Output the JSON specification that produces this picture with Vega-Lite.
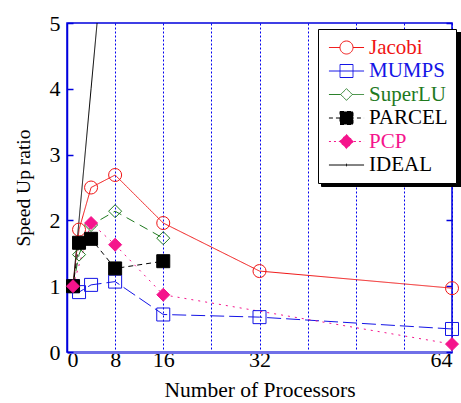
{
  "$schema": "https://vega.github.io/schema/vega-lite/v6.json",
  "width": 385,
  "height": 329,
  "autosize": {"type": "none"},
  "padding": {"left": 67, "top": 23, "right": 9, "bottom": 51},
  "background": "white",
  "config": {
    "view": {"stroke": "#0000dd", "strokeWidth": 1.5},
    "font": "Times New Roman, Liberation Serif, serif",
    "axis": {"labelFont": "Times New Roman, Liberation Serif, serif", "titleFont": "Times New Roman, Liberation Serif, serif", "titleFontWeight": "normal", "labelColor": "black", "titleColor": "black"},
    "legend": {"labelFont": "Times New Roman, Liberation Serif, serif"}
  },
  "datasets": {
    "speed": [
      {"series": "Jacobi", "procs": 1, "speedup": 1.0},
      {"series": "Jacobi", "procs": 2, "speedup": 1.86},
      {"series": "Jacobi", "procs": 4, "speedup": 2.5},
      {"series": "Jacobi", "procs": 8, "speedup": 2.69},
      {"series": "Jacobi", "procs": 16, "speedup": 1.96},
      {"series": "Jacobi", "procs": 32, "speedup": 1.23},
      {"series": "Jacobi", "procs": 64, "speedup": 0.97},
      {"series": "MUMPS", "procs": 1, "speedup": 1.0},
      {"series": "MUMPS", "procs": 2, "speedup": 0.91},
      {"series": "MUMPS", "procs": 4, "speedup": 1.02},
      {"series": "MUMPS", "procs": 8, "speedup": 1.07},
      {"series": "MUMPS", "procs": 16, "speedup": 0.57},
      {"series": "MUMPS", "procs": 32, "speedup": 0.53},
      {"series": "MUMPS", "procs": 64, "speedup": 0.35},
      {"series": "SuperLU", "procs": 1, "speedup": 1.0},
      {"series": "SuperLU", "procs": 2, "speedup": 1.48},
      {"series": "SuperLU", "procs": 4, "speedup": 1.93},
      {"series": "SuperLU", "procs": 8, "speedup": 2.14},
      {"series": "SuperLU", "procs": 16, "speedup": 1.73},
      {"series": "PARCEL", "procs": 1, "speedup": 1.0},
      {"series": "PARCEL", "procs": 2, "speedup": 1.66},
      {"series": "PARCEL", "procs": 4, "speedup": 1.72},
      {"series": "PARCEL", "procs": 8, "speedup": 1.27},
      {"series": "PARCEL", "procs": 16, "speedup": 1.38},
      {"series": "PCP", "procs": 1, "speedup": 1.0},
      {"series": "PCP", "procs": 4, "speedup": 1.96},
      {"series": "PCP", "procs": 8, "speedup": 1.63},
      {"series": "PCP", "procs": 16, "speedup": 0.87},
      {"series": "PCP", "procs": 64, "speedup": 0.12},
      {"series": "IDEAL", "procs": 1, "speedup": 1},
      {"series": "IDEAL", "procs": 2, "speedup": 2},
      {"series": "IDEAL", "procs": 4, "speedup": 4},
      {"series": "IDEAL", "procs": 8, "speedup": 8},
      {"series": "IDEAL", "procs": 16, "speedup": 16},
      {"series": "IDEAL", "procs": 32, "speedup": 32},
      {"series": "IDEAL", "procs": 64, "speedup": 64}
    ]
  },
  "data": {"name": "speed"},
  "resolve": {"axis": {"y": "independent"}},
  "layer": [
    {
      "transform": [{"filter": "datum.series === 'IDEAL' && datum.speedup <= 4"}],
      "mark": {"type": "rule", "opacity": 0},
      "encoding": {
        "y": {
          "field": "speedup", "type": "quantitative",
          "scale": {"domain": [0, 5], "nice": false},
          "axis": {
            "orient": "right", "values": [0, 1, 2, 3, 4, 5],
            "labels": false, "title": null, "domain": false, "grid": false,
            "tickSize": -6, "tickColor": "#0000dd", "tickWidth": 1.5
          }
        },
        "strokeDash": {
          "field": "series", "type": "nominal",
          "scale": {
            "domain": ["IDEAL", "PCP", "PARCEL", "SuperLU", "MUMPS", "Jacobi"],
            "range": [[1, 0], [2, 5], [5, 4], [9, 6], [14, 5], [1, 0]]
          },
          "legend": {
            "orient": "none", "legendX": 254, "legendY": 9,
            "title": null,
            "labelFont": "Times New Roman, Liberation Serif, serif", "labelFontSize": 21,
            "labelExpr": "''",
            "labelColor": "black",
            "padding": 8, "rowPadding": 1.5,
            "symbolOffset": 10, "labelOffset": 98,
            "strokeColor": "black", "fillColor": "black",
            "symbolSize": 169, "symbolStrokeColor": "black", "symbolFillColor": "black"
          }
        }
      }
    },
    {
      "mark": {"type": "line", "strokeWidth": 1, "clip": true},
      "encoding": {
        "x": {
          "field": "procs", "type": "quantitative",
          "scale": {"domain": [0, 64], "nice": false},
          "axis": {
            "values": [0, 8, 16, 24, 32, 40, 48, 56, 64],
            "labelExpr": "indexof([0,8,16,32,64], datum.value) >= 0 ? datum.label : ''",
            "title": "Number of Processors",
            "titleFontSize": 21.5, "titlePadding": 9,
            "labelFontSize": 22, "labelPadding": -3,
            "ticks": false,
            "grid": true, "gridColor": "#0000ee", "gridDash": [2, 2], "gridWidth": 1, "gridOpacity": 1,
            "domainColor": "#7070e8", "domainWidth": 3
          }
        },
        "y": {
          "field": "speedup", "type": "quantitative",
          "axis": {
            "orient": "left",
            "values": [0, 1, 2, 3, 4, 5],
            "title": "Speed Up ratio", "titleFontSize": 19.5, "titlePadding": 16,
            "labelFontSize": 22, "labelPadding": 13,
            "grid": false,
            "tickSize": -6, "tickColor": "#0000dd", "tickWidth": 1.5,
            "domainColor": "#0000dd", "domainWidth": 1.5
          }
        },
        "color": {
          "field": "series", "type": "nominal",
          "scale": {
            "domain": ["Jacobi", "MUMPS", "SuperLU", "PARCEL", "PCP", "IDEAL"],
            "range": ["#f01414", "#1414e6", "#1f7a1f", "#000000", "#f5148c", "#000000"]
          },
          "legend": {
            "orient": "none", "legendX": 251, "legendY": 6,
            "title": null,
            "labelFont": "Times New Roman, Liberation Serif, serif", "labelFontSize": 21,
            "labelExpr": "datum.label + ' '",
            "padding": 8, "rowPadding": 1.5,
            "symbolOffset": 10, "labelOffset": 12,
            "strokeColor": "black", "fillColor": "white",
            "symbolSize": 169,
            "encode": {
              "symbols": {
                "update": {
                  "shape": {"signal": "datum.value === 'Jacobi' ? 'M-2.7,0L-1,0M1,0L2.7,0M1,0A1,1,0,1,1,-1,0A1,1,0,1,1,1,0' : datum.value === 'MUMPS' ? 'M-2.7,0L2.7,0M-1,-1L1,-1L1,1L-1,1Z' : datum.value === 'SuperLU' ? 'M-2.7,0L-0.9,0M0.9,0L2.7,0M-0.9,0L0,-0.9L0.9,0L0,0.9Z' : datum.value === 'PARCEL' ? 'M-2.7,0L2.7,0M-1,-1L1,-1L1,1L-1,1Z' : datum.value === 'PCP' ? 'M-2.7,0L2.7,0M-1.1,0L0,-1.1L1.1,0L0,1.1Z' : 'M-2.7,0L2.7,0M0,-0.2L0,0.2'"},
                  "stroke": {"scale": "color", "field": "value"},
                  "fill": {"signal": "datum.value === 'PARCEL' ? '#000000' : datum.value === 'PCP' ? '#f5148c' : 'transparent'"},
                  "strokeDash": {"signal": "datum.value === 'PARCEL' ? [4, 3] : datum.value === 'PCP' ? [2, 3] : [1, 0]"},
                  "strokeWidth": {"value": 1},
                  "size": {"value": 169},
                  "opacity": {"value": 1}
                }
              },
              "labels": {
                "update": {"fill": {"scale": "color", "field": "value"}}
              }
            }
          }
        },
        "strokeDash": {"field": "series", "type": "nominal"}
      }
    },
    {
      "transform": [{"filter": "datum.series !== 'IDEAL'"}],
      "mark": {"type": "point", "strokeWidth": 1, "opacity": 1},
      "encoding": {
        "x": {"field": "procs", "type": "quantitative"},
        "y": {"field": "speedup", "type": "quantitative", "axis": null},
        "color": {"field": "series", "type": "nominal"},
        "shape": {
          "field": "series", "type": "nominal",
          "scale": {
            "domain": ["Jacobi", "MUMPS", "SuperLU", "PARCEL", "PCP"],
            "range": ["circle", "square", "diamond", "square", "diamond"]
          },
          "legend": null
        },
        "fill": {
          "field": "series", "type": "nominal",
          "scale": {
            "domain": ["Jacobi", "MUMPS", "SuperLU", "PARCEL", "PCP"],
            "range": ["transparent", "transparent", "transparent", "#000000", "#f5148c"]
          },
          "legend": null
        },
        "size": {
          "field": "series", "type": "nominal",
          "scale": {
            "domain": ["Jacobi", "MUMPS", "SuperLU", "PARCEL", "PCP"],
            "range": [169, 169, 144, 196, 210]
          },
          "legend": null
        }
      }
    }
  ]
}
